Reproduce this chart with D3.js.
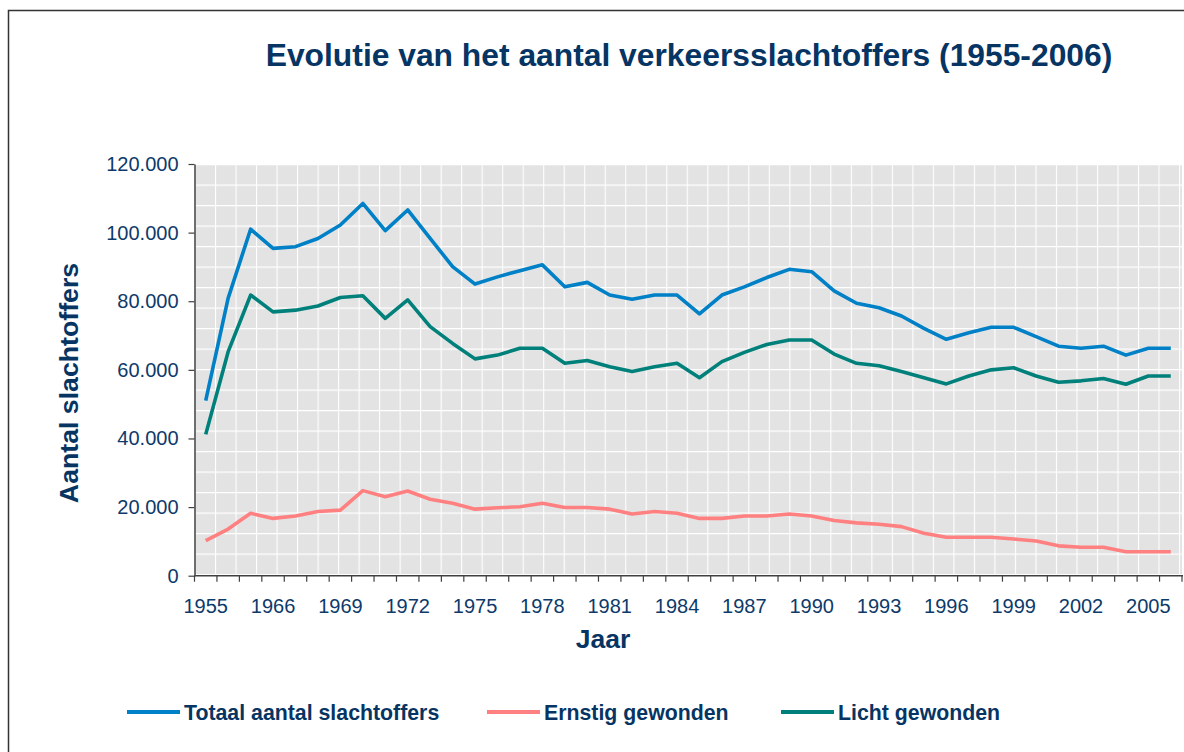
<!DOCTYPE html>
<html>
<head>
<meta charset="utf-8">
<script src="https://cdn.jsdelivr.net/npm/d3@7/dist/d3.min.js"></script>
<style>
  body { margin: 0; background: #fff; }
  svg { display: block; font-family: Arial, "Liberation Sans", sans-serif; }
</style>
</head>
<body>
<svg width="1184" height="752"></svg>
<script>
// categories (first three are 5-year steps, then yearly)
var years = ["1955", "1960", "1965", "1966", "1967", "1968", "1969", "1970", "1971", "1972",
             "1973", "1974", "1975", "1976", "1977", "1978", "1979", "1980", "1981", "1982",
             "1983", "1984", "1985", "1986", "1987", "1988", "1989", "1990", "1991", "1992",
             "1993", "1994", "1995", "1996", "1997", "1998", "1999", "2000", "2001", "2002",
             "2003", "2004", "2005", "2006"];

var totaal = [51000, 80900, 101000, 95400, 95900, 98300, 102200, 108500, 100600, 106600,
              98300, 90100, 85000, 87100, 88900, 90600, 84200, 85500, 81800, 80600,
              81800, 81800, 76300, 81800, 84200, 86900, 89300, 88600, 83000, 79400,
              78100, 75700, 72100, 68900, 70800, 72400, 72400, 69700, 66900, 66300,
              66900, 64300, 66300, 66300];

var ernstig = [10200, 13600, 18200, 16700, 17400, 18700, 19100, 24800, 23000, 24700,
               22300, 21100, 19400, 19800, 20100, 21100, 19900, 19900, 19400, 18000,
               18700, 18200, 16700, 16700, 17400, 17400, 18000, 17400, 16100, 15400,
               15000, 14300, 12400, 11200, 11200, 11200, 10700, 10100, 8700, 8300,
               8300, 7000, 7000, 7000];

var licht = [41200, 65300, 81800, 76900, 77400, 78600, 81100, 81600, 75000, 80400,
             72600, 67700, 63200, 64300, 66300, 66300, 61900, 62700, 60900, 59500,
             60900, 61900, 57700, 62400, 65100, 67400, 68700, 68700, 64600, 61900,
             61200, 59500, 57700, 55900, 58200, 60000, 60600, 58200, 56400, 56800,
             57500, 55800, 58200, 58200];

var yTicks = [0, 20000, 40000, 60000, 80000, 100000, 120000];

var series = [
  { name: "Totaal aantal slachtoffers", values: totaal, color: "#0080c6" },
  { name: "Ernstig gewonden", values: ernstig, color: "#ff8080" },
  { name: "Licht gewonden", values: licht, color: "#00807a" }
];

var navy = "#0d3a6a", titleColor = "#063463";

var svg = d3.select("svg");

// plot box (don't call these top/left: window.top is read-only)
var plotL = 194.5, plotR = 1182, plotT = 164, plotB = 575.7;

// Dutch number format: 120.000
var nl = d3.formatLocale({ decimal: ",", thousands: ".", grouping: [3], currency: ["€", ""] });
var fmt = nl.format(",d");

var x = d3.scaleBand().domain(years).range([plotL, plotR]).padding(0);
var y = d3.scaleLinear().domain([0, 120000]).range([plotB, plotT]);

// outer frame (cut off at right/bottom like the original)
svg.append("rect")
    .attr("x", 8.5).attr("y", 10.5)
    .attr("width", 1300).attr("height", 900)
    .attr("fill", "none")
    .attr("stroke", "#333")
    .attr("stroke-width", 1.5);

// title
svg.append("text")
    .attr("x", 689).attr("y", 66)
    .attr("text-anchor", "middle")
    .attr("font-size", 31.8)
    .attr("font-weight", "bold")
    .attr("fill", titleColor)
    .text("Evolutie van het aantal verkeersslachtoffers (1955-2006)");

// plot background with white grid pattern
var defs = svg.append("defs");
var pat = defs.append("pattern")
    .attr("id", "grid")
    .attr("patternUnits", "userSpaceOnUse")
    .attr("x", plotL).attr("y", plotT)
    .attr("width", 20.51).attr("height", 20.5);
pat.append("rect").attr("width", 20.51).attr("height", 20.5).attr("fill", "#e3e3e3");
pat.append("path")
    .attr("d", "M0,0H20.51M0,0V20.5")
    .attr("stroke", "#fff")
    .attr("stroke-width", 2.2);

svg.append("rect")
    .attr("x", plotL).attr("y", plotT)
    .attr("width", plotR - plotL).attr("height", plotB - plotT)
    .attr("fill", "url(#grid)");

// lines
var line = d3.line()
    .x(function(d, i) { return x(years[i]) + x.bandwidth() / 2; })
    .y(function(d) { return y(d); });

svg.selectAll(".series")
    .data(series).enter().append("path")
    .attr("class", "series")
    .attr("fill", "none")
    .attr("stroke", function(s) { return s.color; })
    .attr("stroke-width", 3.6)
    .attr("stroke-linejoin", "round")
    .attr("d", function(s) { return line(s.values); });

// y axis
var yAxis = svg.append("g")
    .attr("transform", "translate(" + plotL + ",0)")
    .call(d3.axisLeft(y).tickValues(yTicks).tickFormat(fmt).tickSizeInner(6).tickSizeOuter(0).tickPadding(10));
yAxis.select(".domain").attr("stroke", "#404040").attr("stroke-width", 1.5);
yAxis.selectAll(".tick line").attr("stroke", "#404040").attr("stroke-width", 1.2);
yAxis.selectAll("text").attr("font-size", 20).attr("fill", navy).attr("font-family", "Arial, 'Liberation Sans', sans-serif");

// x axis: ticks sit between categories, labels on every third category
var xAxis = svg.append("g").attr("transform", "translate(0," + plotB + ")");
xAxis.append("line")
    .attr("x1", plotL).attr("x2", plotR + 1)
    .attr("stroke", "#404040").attr("stroke-width", 1.5);
xAxis.selectAll(".xtick")
    .data(years.concat(["end"])).enter().append("line")
    .attr("class", "xtick")
    .attr("x1", function(d) { return d === "end" ? plotR : x(d); })
    .attr("x2", function(d) { return d === "end" ? plotR : x(d); })
    .attr("y1", 0).attr("y2", 6)
    .attr("stroke", "#404040").attr("stroke-width", 1.2);

var xLabels = svg.append("g")
    .attr("transform", "translate(0," + plotB + ")")
    .call(d3.axisBottom(x)
      .tickValues(years.filter(function(d, i) { return i % 3 === 0; }))
      .tickSize(0).tickPadding(23));
xLabels.select(".domain").remove();
xLabels.selectAll("text").attr("font-size", 20).attr("fill", navy).attr("font-family", "Arial, 'Liberation Sans', sans-serif");

// axis titles
svg.append("text")
    .attr("transform", "translate(78,383) rotate(-90)")
    .attr("text-anchor", "middle")
    .attr("font-size", 26.7)
    .attr("font-weight", "bold")
    .attr("fill", titleColor)
    .text("Aantal slachtoffers");

svg.append("text")
    .attr("x", 603).attr("y", 648)
    .attr("text-anchor", "middle")
    .attr("font-size", 26.5)
    .attr("font-weight", "bold")
    .attr("fill", titleColor)
    .text("Jaar");

// legend
var legendX = [127, 487, 781];
var legend = svg.selectAll(".legend")
    .data(series).enter().append("g")
    .attr("class", "legend")
    .attr("transform", function(s, i) { return "translate(" + legendX[i] + ",712)"; });
legend.append("line")
    .attr("x1", 0).attr("x2", 53)
    .attr("stroke", function(s) { return s.color; })
    .attr("stroke-width", 4);
legend.append("text")
    .attr("x", 57).attr("y", 7.5)
    .attr("font-size", 21.3)
    .attr("font-weight", "bold")
    .attr("fill", titleColor)
    .text(function(s) { return s.name; });
</script>
</body>
</html>
